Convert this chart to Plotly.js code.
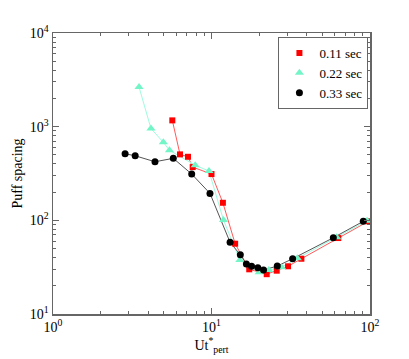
<!DOCTYPE html>
<html>
<head>
<meta charset="utf-8">
<script src="https://cdn.plot.ly/plotly-3.0.1.min.js"></script>
<style>
  html, body { margin: 0; padding: 0; background: #fff; }
  #chart { width: 409px; height: 359px; }
</style>
</head>
<body>
<div id="chart"></div>
<script>
// series (x = Ut*_pert, y = puff spacing)
const redX = [5.66, 6.33, 7.11, 7.61, 10.0, 11.8, 14.1, 17.3, 22.3, 25.8, 30.4, 36.9, 63.1, 97.6];
const redY = [1167, 506, 477, 370, 312, 154, 56.3, 30.0, 26.6, 29.0, 32.3, 38.9, 64.7, 97.6];

const cyanX = [3.49, 4.15, 4.97, 5.43, 7.89, 9.64, 11.9, 15.1, 20.0, 23.0, 27.7, 34.8, 61.6, 95.8];
const cyanY = [2647, 955, 681, 560, 387, 336, 100.7, 37.7, 27.9, 29.5, 31.5, 39.3, 65.9, 99.0];

const blackX = [2.85, 3.30, 4.40, 5.74, 7.50, 9.78, 13.1, 15.2, 16.6, 17.9, 19.6, 21.3, 26.0, 32.5, 58.7, 90.7];
const blackY = [514, 489, 422, 459, 312, 194, 58.2, 42.9, 34.2, 32.3, 31.2, 29.5, 32.5, 38.9, 65.2, 97.6];

const seriesNames = ['0.11 sec', '0.22 sec', '0.33 sec'];

const xTickVals = [1, 10, 100];
const xTickText = ['10<sup>0</sup>', '10<sup>1</sup>', '10<sup>2</sup>'];
const yTickVals = [10, 100, 1000, 10000];
const yTickText = ['10<sup>1</sup>', '10<sup>2</sup>', '10<sup>3</sup>', '10<sup>4</sup>'];
const minorVals = [];
[1, 10, 100, 1000].forEach(d => {
    for (let k = 2; k <= 9; k++) minorVals.push(d * k);
});

const serif = 'Liberation Serif';

function lineTrace(x, y, color) {
    return {
        x: x, y: y, type: 'scatter', mode: 'lines',
        line: { color: color, width: 1 },
        showlegend: false, hoverinfo: 'skip'
    };
}

function markerTrace(x, y, name, symbol, color, size) {
    return {
        x: x, y: y, name: name, type: 'scatter', mode: 'markers',
        marker: { symbol: symbol, color: color, size: size, line: { width: 0 } }
    };
}

const traces = [
    lineTrace(redX, redY, '#ff5a5a'),
    lineTrace(cyanX, cyanY, '#9ffbe0'),
    lineTrace(blackX, blackY, '#555555'),
    markerTrace(redX, redY, seriesNames[0], 'square', '#ff0000', 6),
    markerTrace(cyanX, cyanY, seriesNames[1], 'triangle-up', '#74f5c8', 8),
    markerTrace(blackX, blackY, seriesNames[2], 'circle', '#000000', 7)
];

function axis(range, vals, text, titleText, standoff) {
    return {
        type: 'log',
        range: range,
        tickmode: 'array',
        tickvals: vals,
        ticktext: text,
        ticks: 'inside',
        ticklen: 6,
        tickwidth: 1,
        tickcolor: '#666',
        showline: true,
        linecolor: '#666',
        linewidth: 1.5,
        mirror: 'allticks',
        showgrid: false,
        zeroline: false,
        tickfont: { family: serif, size: 14, color: '#000' },
        minor: {
            tickmode: 'array',
            tickvals: minorVals,
            ticks: 'inside',
            ticklen: 3,
            tickcolor: '#666',
            showgrid: false
        },
        title: { text: titleText, font: { family: serif, size: 14, color: '#000' }, standoff: standoff }
    };
}

const layout = {
    width: 409,
    height: 359,
    margin: { l: 53, r: 39, t: 33, b: 45 },
    paper_bgcolor: '#fff',
    plot_bgcolor: '#fff',
    xaxis: axis([0, 2], xTickVals, xTickText, 'Ut<sup>*</sup><sub>pert</sub>', 2),
    yaxis: axis([1, 4], yTickVals, yTickText, 'Puff spacing', 4),
    legend: {
        x: 0.995, xanchor: 'right',
        y: 0.986, yanchor: 'top',
        bgcolor: '#fff',
        bordercolor: '#666',
        borderwidth: 1,
        font: { family: serif, size: 13, color: '#000' },
        tracegroupgap: 0
    },
    showlegend: true
};

Plotly.newPlot('chart', traces, layout, { staticPlot: true });
</script>
</body>
</html>
